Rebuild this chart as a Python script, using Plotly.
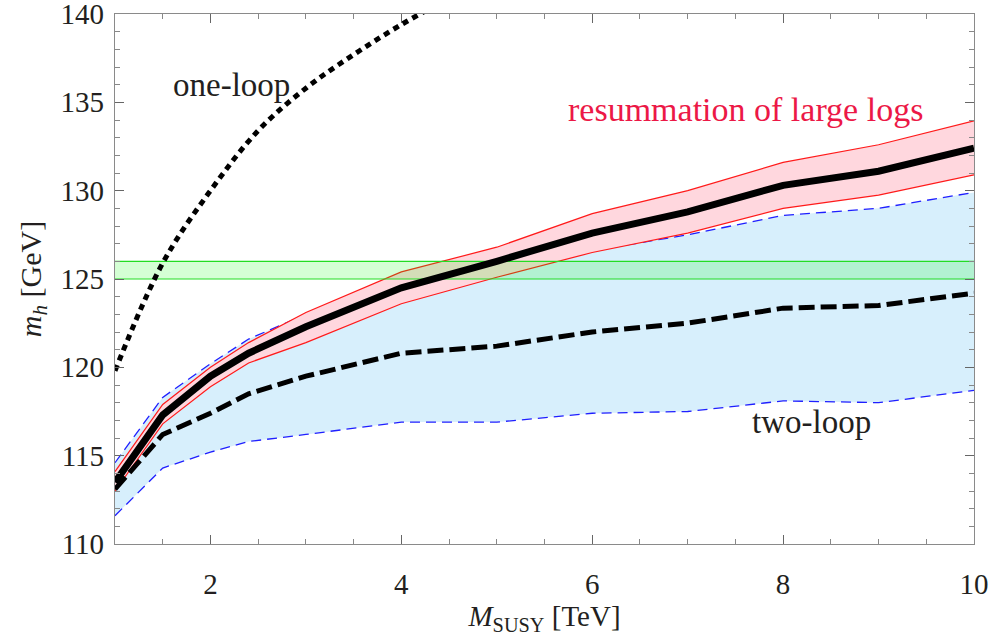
import plotly.graph_objects as go

# ---- data ----
m_susy = [1, 1.5, 2, 2.4, 3, 4, 5, 6, 7, 8, 9, 10]
two_loop_upper = [114.6, 118.3, 120.2, 121.6, 123.0, 124.6, 125.8, 126.6, 127.5, 128.6, 129.0, 129.9]
two_loop_lower = [111.6, 114.3, 115.2, 115.8, 116.2, 116.9, 116.9, 117.4, 117.5, 118.1, 118.0, 118.7]
two_loop_central = [113.1, 116.2, 117.4, 118.5, 119.5, 120.8, 121.2, 122.0, 122.5, 123.35, 123.5, 124.2]
resum_upper = [114.1, 117.9, 120.0, 121.4, 123.1, 125.4, 126.8, 128.7, 130.0, 131.6, 132.6, 133.95]
resum_lower = [113.0, 116.8, 118.9, 120.25, 121.4, 123.6, 125.1, 126.5, 127.6, 129.0, 129.75, 130.9]
resum_central = [113.5, 117.3, 119.5, 120.8, 122.3, 124.5, 126.0, 127.6, 128.8, 130.3, 131.1, 132.4]
one_loop_x = [1, 1.5, 2, 2.5, 3, 3.5, 4, 4.5]
one_loop_y = [119.8, 125.9, 130.0, 133.4, 135.8, 137.7, 139.4, 140.9]
higgs_x = [1, 10]
higgs_low = [125, 125]
higgs_high = [126, 126]

x_ticks = [2, 4, 6, 8, 10]
y_ticks = [110, 115, 120, 125, 130, 135, 140]

FONT = "Liberation Serif, Times New Roman, DejaVu Serif, serif"
BLUE = "#1f1fff"
RED = "#ff1a1a"
TXT = "#231f20"

fig = go.Figure()

# two-loop band
fig.add_trace(go.Scatter(x=m_susy, y=two_loop_lower, mode="lines",
                         line=dict(color=BLUE, width=1.3, dash="10px,6px"),
                         showlegend=False, hoverinfo="skip"))
fig.add_trace(go.Scatter(x=m_susy, y=two_loop_upper, mode="lines",
                         line=dict(color=BLUE, width=1.3, dash="10px,6px"),
                         fill="tonexty", fillcolor="#d7effc",
                         showlegend=False, hoverinfo="skip"))
# resummation band
fig.add_trace(go.Scatter(x=m_susy, y=resum_lower, mode="lines",
                         line=dict(color=RED, width=1.2),
                         showlegend=False, hoverinfo="skip"))
fig.add_trace(go.Scatter(x=m_susy, y=resum_upper, mode="lines",
                         line=dict(color=RED, width=1.2),
                         fill="tonexty", fillcolor="#ffd7de",
                         showlegend=False, hoverinfo="skip"))
# Higgs mass band
fig.add_trace(go.Scatter(x=higgs_x, y=higgs_low, mode="lines",
                         line=dict(color="#22dd22", width=1.2),
                         showlegend=False, hoverinfo="skip"))
fig.add_trace(go.Scatter(x=higgs_x, y=higgs_high, mode="lines",
                         line=dict(color="#22dd22", width=1.2),
                         fill="tonexty", fillcolor="rgba(0,255,0,0.17)",
                         showlegend=False, hoverinfo="skip"))
# two-loop central (dashed)
fig.add_trace(go.Scatter(x=m_susy, y=two_loop_central, mode="lines",
                         line=dict(color="black", width=5, dash="16px,6px"),
                         showlegend=False, hoverinfo="skip"))
# resummation central (thick solid)
fig.add_trace(go.Scatter(x=m_susy, y=resum_central, mode="lines",
                         line=dict(color="black", width=7),
                         showlegend=False, hoverinfo="skip"))
# one-loop (dotted)
fig.add_trace(go.Scatter(x=one_loop_x, y=one_loop_y, mode="lines",
                         line=dict(color="black", width=5, dash="6px,5px", shape="spline"),
                         showlegend=False, hoverinfo="skip"))

axis_common = dict(
    showgrid=False, zeroline=False, showline=True, linecolor="#8a8a8a", linewidth=1.2,
    mirror="allticks", ticks="inside", tickcolor="#666666", tickwidth=1.2,
    tickfont=dict(family=FONT, size=29, color=TXT), automargin=False,
    ticklabeloverflow="allow",
)

fig.update_xaxes(range=[1, 10], tickvals=x_ticks, ticklen=9,
                 minor=dict(dtick=0.5, ticklen=5, ticks="inside", tickcolor="#888888", showgrid=False),
                 ticklabelstandoff=14,
                 title=dict(text="<i>M</i><sub>SUSY</sub> [TeV]", font=dict(family=FONT, size=29, color=TXT),
                            standoff=4),
                 **axis_common)
fig.update_yaxes(range=[110, 140], tickvals=y_ticks, ticklen=9,
                 minor=dict(dtick=1, ticklen=5, ticks="inside", tickcolor="#888888", showgrid=False),
                 ticklabelstandoff=4,
                 title=dict(text="<i>m<sub>h</sub></i> [GeV]", font=dict(family=FONT, size=30, color=TXT),
                            standoff=10),
                 **axis_common)

fig.add_annotation(x=2.22, y=136.0, text="one-loop", showarrow=False,
                   font=dict(family=FONT, size=33, color=TXT))
fig.add_annotation(x=7.61, y=134.6, text="resummation of large logs", showarrow=False,
                   font=dict(family=FONT, size=34, color="#ec1846"))
fig.add_annotation(x=8.30, y=116.9, text="two-loop", showarrow=False,
                   font=dict(family=FONT, size=33, color=TXT))

fig.update_layout(
    width=993, height=639,
    margin=dict(l=115, r=19, t=14, b=95),
    paper_bgcolor="white", plot_bgcolor="white",
)

fig.write_html("out.html")
